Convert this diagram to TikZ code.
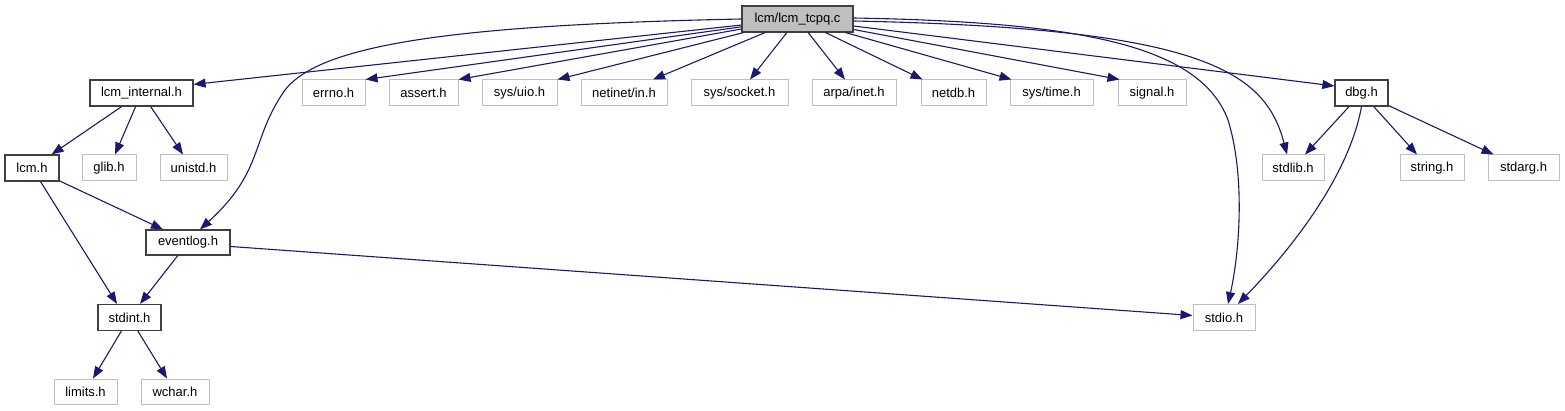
\documentclass[tikz,border=0pt]{standalone}
\usepackage{fontspec}
\setmainfont{Liberation Sans}
\usetikzlibrary{arrows.meta,calc}
\definecolor{edgec}{HTML}{191970}
\definecolor{gbord}{HTML}{BFBFBF}
\definecolor{dbord}{HTML}{404040}
\definecolor{mainfill}{HTML}{BFBFBF}
\begin{document}
\begin{tikzpicture}[x=1pt,y=-1pt,
  box/.style={draw=dbord,line width=1.2pt,fill=white,minimum height=26pt,inner sep=0pt,
    font=\fontsize{13}{15}\selectfont,text=black},
  gbox/.style={box,draw=gbord,line width=1pt},
  edge/.style={draw=edgec,line width=1.1pt,-{Triangle[length=12pt,width=9pt]}}]
\useasboundingbox[fill=white] (0,0) rectangle (1565,411);

% row 1
\node[box,fill=mainfill,minimum width=111pt] (tcpq) at (797.5,19) {lcm/lcm\_tcpq.c};
% row 2
\node[box,minimum width=103pt] (lcmint) at (141.5,93) {lcm\_internal.h};
\node[gbox,minimum width=63pt] (errno) at (333.5,93) {errno.h};
\node[gbox,minimum width=69pt] (assert) at (423.5,93) {assert.h};
\node[gbox,minimum width=75pt] (uio) at (519.5,93) {sys/uio.h};
\node[gbox,minimum width=86pt] (netinet) at (624,93) {netinet/in.h};
\node[gbox,minimum width=97pt] (socket) at (739.5,93) {sys/socket.h};
\node[gbox,minimum width=84pt] (arpa) at (854,93) {arpa/inet.h};
\node[gbox,minimum width=65pt] (netdb) at (953.5,93) {netdb.h};
\node[gbox,minimum width=83pt] (systime) at (1051.5,93) {sys/time.h};
\node[gbox,minimum width=68pt] (signal) at (1152,93) {signal.h};
\node[box,minimum width=53pt] (dbg) at (1361.5,93) {dbg.h};
% row 3
\node[box,minimum width=54pt] (lcm) at (32,168) {lcm.h};
\node[gbox,minimum width=54pt] (glib) at (109,168) {glib.h};
\node[gbox,minimum width=67pt] (unistd) at (193.5,168) {unistd.h};
\node[gbox,minimum width=62pt] (stdlib) at (1293,168) {stdlib.h};
\node[gbox,minimum width=64pt] (string) at (1432,168) {string.h};
\node[gbox,minimum width=71pt] (stdarg) at (1523.5,168) {stdarg.h};
% row 4
\node[box,minimum width=84pt,minimum height=25pt] (eventlog) at (188,242.5) {eventlog.h};
% row 5
\node[box,minimum width=63pt] (stdint) at (129.5,317.5) {stdint.h};
\node[gbox,minimum width=62pt] (stdio) at (1224,317.5) {stdio.h};
% row 6
\node[gbox,minimum width=63pt,minimum height=25pt] (limits) at (85.5,391.5) {limits.h};
\node[gbox,minimum width=68pt,minimum height=25pt] (wchar) at (175,391.5) {wchar.h};

% edges from tcpq
\draw[edge] (tcpq) -- ($(lcmint.north east)+(0,5)$);
\draw[edge] (tcpq.west) .. controls (450,25) and (320,45) .. (285,90)
  .. controls (250,140) and (265,170) .. ($(eventlog.north)+(12,0)$);
\draw[edge] (tcpq) -- (errno.north east);
\draw[edge] (tcpq) -- (assert.north east);
\draw[edge] (tcpq) -- (uio.north east);
\draw[edge] (tcpq) -- ($(netinet.north)+(29,0)$);
\draw[edge] (tcpq) -- ($(socket.north)+(10.5,0)$);
\draw[edge] (tcpq) -- ($(arpa.north)+(-9,0)$);
\draw[edge] (tcpq) -- ($(netdb.north west)+(2,0)$);
\draw[edge] (tcpq) -- ($(systime.north west)+(2,0)$);
\draw[edge] (tcpq) -- ($(signal.north west)+(2,0)$);
\draw[edge] (tcpq) -- ($(dbg.west)+(0,-7)$);
\draw[edge] ($(tcpq.east)+(0,2)$) .. controls (1200,28) and (1265,70) .. ($(stdlib.north)+(-6,0)$);
\draw[edge] ($(tcpq.east)+(0,-1)$) .. controls (1080,22) and (1200,45) .. (1228,120)
  .. controls (1245,175) and (1240,250) .. ($(stdio.north)+(4,0)$);

% lcm_internal
\draw[edge] (lcmint) -- ($(lcm.north east)+(-8,0)$);
\draw[edge] (lcmint) -- ($(glib.north)+(6,0)$);
\draw[edge] (lcmint) -- ($(unistd.north)+(-10.5,0)$);
% lcm
\draw[edge] (lcm) -- ($(eventlog.north)+(-25,0)$);
\draw[edge] (lcm) -- ($(stdint.north)+(-12.5,0)$);
% eventlog
\draw[edge] (eventlog) -- ($(stdint.north)+(10.5,0)$);
\draw[edge] ($(eventlog.east)+(0,4)$) -- ($(stdio.west)+(0,-2)$);
% stdint
\draw[edge] (stdint) -- ($(limits.north)+(7.5,0)$);
\draw[edge] (stdint) -- ($(wchar.north)+(-8,0)$);
% dbg
\draw[edge] (dbg) -- ($(stdlib.north)+(12,0)$);
\draw[edge] (dbg) -- ($(string.north)+(-15,0)$);
\draw[edge] (dbg) -- ($(stdarg.north)+(-30,0)$);
\draw[edge] (dbg.south) .. controls (1350,170) and (1300,240) .. ($(stdio.north)+(14,0)$);
\end{tikzpicture}
\end{document}
